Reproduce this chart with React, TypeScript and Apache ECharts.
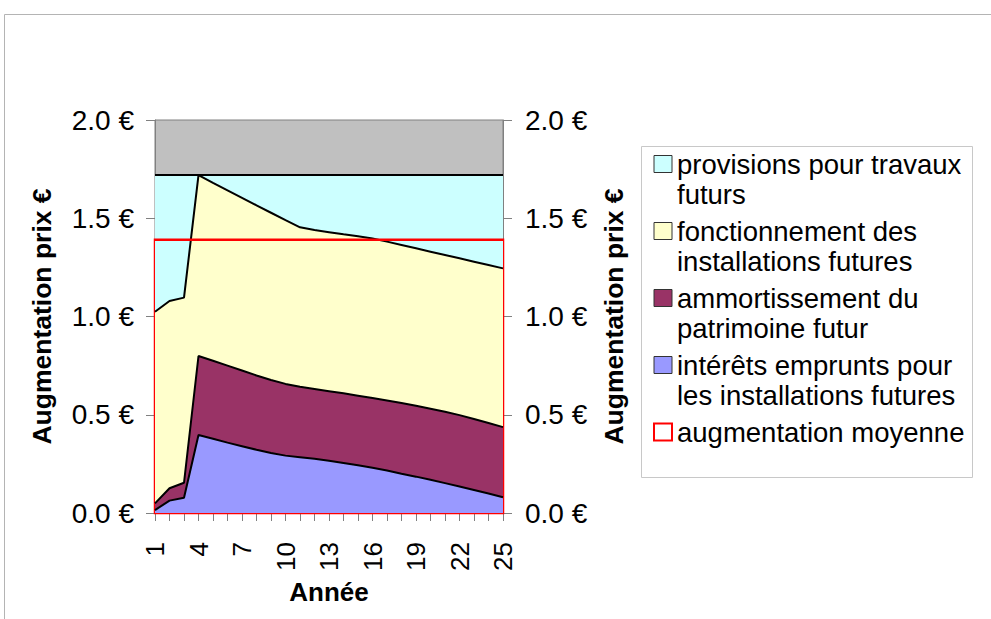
import React, { useEffect, useRef } from 'react';
import * as echarts from 'echarts';

const years = ['1','2','3','4','5','6','7','8','9','10','11','12','13','14','15','16','17','18','19','20','21','22','23','24','25'];

const interets = [0.015,0.063,0.078,0.397,0.378,0.358,0.340,0.322,0.305,0.292,0.284,0.276,0.266,0.255,0.243,0.230,0.216,0.200,0.185,0.169,0.152,0.135,0.117,0.099,0.080];
const amortissement = [0.034,0.063,0.076,0.402,0.397,0.392,0.385,0.378,0.372,0.365,0.358,0.355,0.354,0.354,0.354,0.355,0.357,0.360,0.361,0.362,0.363,0.363,0.361,0.359,0.357];
const fonctionnement = [0.975,0.953,0.942,0.921,0.905,0.892,0.879,0.866,0.851,0.833,0.812,0.809,0.809,0.809,0.811,0.812,0.808,0.804,0.801,0.799,0.798,0.798,0.801,0.804,0.808];
const provisions = [0.696,0.641,0.624,0.000,0.040,0.078,0.116,0.154,0.192,0.230,0.266,0.280,0.291,0.302,0.312,0.323,0.339,0.356,0.373,0.390,0.407,0.424,0.441,0.458,0.475];
const moyenne = [1.39,1.39,1.39,1.39,1.39,1.39,1.39,1.39,1.39,1.39,1.39,1.39,1.39,1.39,1.39,1.39,1.39,1.39,1.39,1.39,1.39,1.39,1.39,1.39,1.39];

const N_PROV = 'provisions pour travaux futurs';
const N_FONCT = 'fonctionnement des installations futures';
const N_AMORT = 'ammortissement du patrimoine futur';
const N_INT = 'intérêts emprunts pour les installations futures';
const N_MOY = 'augmentation moyenne';

// leading empty line keeps the first text line level with the legend square
const legendText: Record<string, string> = {
  [N_PROV]: '\nprovisions pour travaux\nfuturs',
  [N_FONCT]: '\nfonctionnement des\ninstallations futures',
  [N_AMORT]: '\nammortissement du\npatrimoine futur',
  [N_INT]: '\nintérêts emprunts pour\nles installations futures',
  [N_MOY]: '\naugmentation moyenne\n',
};

const yAxisTitle = 'Augmentation prix €';
const xAxisTitle = 'Année';

const FONT = '"Liberation Sans", Arial, sans-serif';

export default function App() {
  const ref = useRef<HTMLDivElement>(null);
  useEffect(() => {
    if (!ref.current) return;
    const chart = echarts.init(ref.current, undefined, { renderer: 'svg' });
    const common = {
      type: 'line',
      stack: 'total',
      symbol: 'none',
      showSymbol: false,
      lineStyle: { color: '#000', width: 2 },
      emphasis: { disabled: true },
      z: 2,
    };
    const labelBase = {
      formatter: (v: number) => v.toFixed(1) + ' €',
      fontSize: 28,
      color: '#000',
      fontFamily: FONT,
    };
    const yAxisBase = {
      type: 'value',
      min: 0,
      max: 2,
      interval: 0.5,
      axisLine: { show: true, lineStyle: { color: '#808080', width: 1 } },
      axisTick: { show: true, length: 9, lineStyle: { color: '#808080' } },
      splitLine: { show: false },
      name: yAxisTitle,
      nameLocation: 'middle',
      nameRotate: 90,
      nameTextStyle: { fontSize: 26.5, fontWeight: 'bold', color: '#000', fontFamily: FONT },
    };
    chart.setOption({
      animation: false,
      textStyle: { fontFamily: FONT },
      grid: {
        left: 155,
        right: 488,
        top: 120,
        bottom: 106,
        show: true,
        backgroundColor: '#C0C0C0',
        borderColor: '#808080',
        borderWidth: 1,
      },
      xAxis: {
        type: 'category',
        data: years,
        boundaryGap: false,
        axisLine: { show: true, lineStyle: { color: '#808080' } },
        axisTick: { show: true, interval: 0, length: 8, lineStyle: { color: '#808080' } },
        axisLabel: { interval: 2, rotate: 90, fontSize: 26, margin: 29, color: '#000', fontFamily: FONT },
        splitLine: { show: false },
        name: xAxisTitle,
        nameLocation: 'middle',
        nameGap: 64,
        nameTextStyle: { fontSize: 26, fontWeight: 'bold', color: '#000', fontFamily: FONT },
      },
      yAxis: [
        { ...yAxisBase, position: 'left', nameGap: 100, axisLabel: { ...labelBase, margin: 21 } },
        { ...yAxisBase, position: 'right', nameGap: 97, axisLabel: { ...labelBase, margin: 22 } },
      ],
      legend: {
        orient: 'vertical',
        left: 653,
        top: 119,
        padding: 0,
        itemGap: -23,
        itemWidth: 18,
        itemHeight: 17,
        icon: 'rect',
        selectedMode: false,
        formatter: (n: string) => legendText[n],
        textStyle: { fontSize: 27.5, lineHeight: 30, color: '#000', fontFamily: FONT },
        data: [
          { name: N_PROV, itemStyle: { color: '#CCFFFF', borderColor: '#333', borderWidth: 1 } },
          { name: N_FONCT, itemStyle: { color: '#FFFFCC', borderColor: '#333', borderWidth: 1 } },
          { name: N_AMORT, itemStyle: { color: '#993366', borderColor: '#333', borderWidth: 1 } },
          { name: N_INT, itemStyle: { color: '#9999FF', borderColor: '#333', borderWidth: 1 } },
          { name: N_MOY, itemStyle: { color: '#FFFFFF', borderColor: '#FF0000', borderWidth: 2 } },
        ],
      },
      graphic: [
        { type: 'line', shape: { x1: 4.5, y1: 14.5, x2: 991, y2: 14.5 }, style: { stroke: '#b4b4b4', lineWidth: 1 } },
        { type: 'line', shape: { x1: 4.5, y1: 14.5, x2: 4.5, y2: 619 }, style: { stroke: '#b4b4b4', lineWidth: 1 } },
        { type: 'rect', shape: { x: 641.5, y: 146.5, width: 331, height: 331 }, style: { fill: 'none', stroke: '#c8c8c8', lineWidth: 1 } },
      ],
      series: [
        { ...common, name: N_INT, data: interets, color: '#9999FF', areaStyle: { color: '#9999FF', opacity: 1 } },
        { ...common, name: N_AMORT, data: amortissement, color: '#993366', areaStyle: { color: '#993366', opacity: 1 } },
        { ...common, name: N_FONCT, data: fonctionnement, color: '#FFFFCC', areaStyle: { color: '#FFFFCC', opacity: 1 } },
        { ...common, name: N_PROV, data: provisions, color: '#CCFFFF', areaStyle: { color: '#CCFFFF', opacity: 1 } },
        {
          type: 'line',
          name: N_MOY,
          data: moyenne,
          color: '#FF0000',
          symbol: 'none',
          showSymbol: false,
          lineStyle: { color: '#FF0000', width: 2.5 },
          emphasis: { disabled: true },
          z: 5,
          markArea: {
            silent: true,
            itemStyle: { color: 'rgba(0,0,0,0)', borderColor: '#FF0000', borderWidth: 2.5 },
            data: [[{ coord: [years[0], 0] }, { coord: [years[years.length - 1], moyenne[0]] }]],
          },
        },
      ],
    });
    return () => chart.dispose();
  }, []);
  return (
    <div
      ref={ref}
      style={{ position: 'fixed', left: 0, top: 0, width: 991, height: 619, background: '#fff' }}
    />
  );
}
